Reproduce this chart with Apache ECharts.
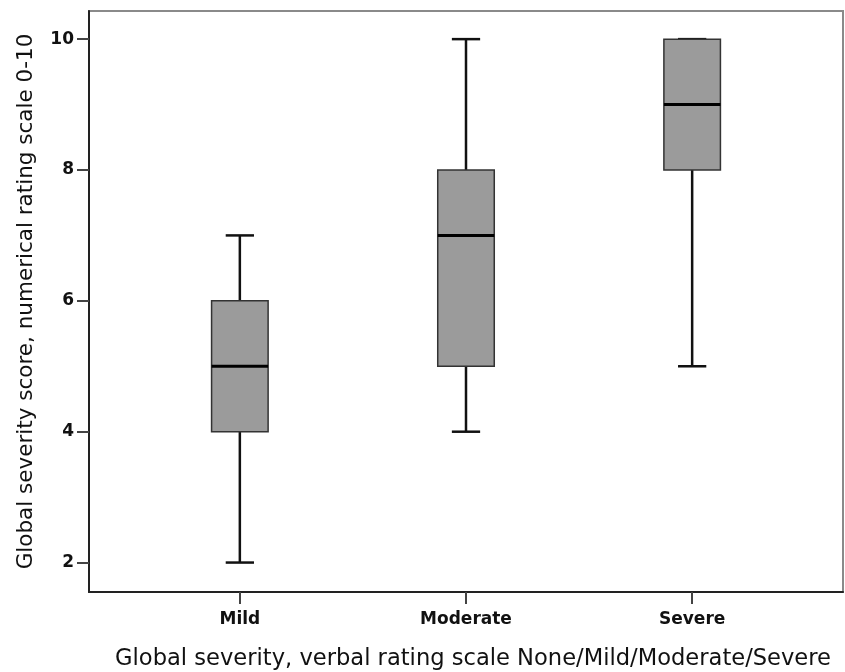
<!DOCTYPE html>
<html><head><meta charset="utf-8">
<script src="https://cdn.jsdelivr.net/npm/echarts@6/dist/echarts.min.js"></script>
<style>html,body{margin:0;padding:0;background:#fff}#c{width:845px;height:672px}</style>
</head><body><div id="c"></div>
<script>
var categories = ['Mild', 'Moderate', 'Severe'];
var whiskerLow = [2, 4, 5];
var q1 = [4, 5, 8];
var median = [5, 7, 9];
var q3 = [6, 8, 10];
var whiskerHigh = [7, 10, 10];
var yTicks = [2, 4, 6, 8, 10];

var data = categories.map(function (c, i) {
  return [i, whiskerLow[i], q1[i], median[i], q3[i], whiskerHigh[i]];
});

var chart = echarts.init(document.getElementById('c'), null, {renderer: 'canvas'});
chart.setOption({
  animation: false,
  backgroundColor: '#fff',
  grid: {left: 89, right: 2, top: 11, bottom: 80, show: true, borderColor: '#8a8a8a', borderWidth: 2,
    containLabel: false, outerBoundsMode: 'none'},
  xAxis: {
    type: 'value', min: -0.667, max: 2.667,
    splitLine: {show: false},
    axisLine: {show: true, onZero: false, lineStyle: {color: '#222', width: 2}},
    axisTick: {show: true, length: 12, lineStyle: {color: '#444', width: 2}, customValues: [0, 1, 2]},
    axisLabel: {customValues: [0, 1, 2], formatter: function (v) { return categories[Math.round(v)]; },
      color: '#111', fontWeight: 'bold', fontSize: 17, fontFamily: 'DejaVu Sans', margin: 19},
    name: 'Global severity, verbal rating scale None/Mild/Moderate/Severe',
    nameLocation: 'middle', nameGap: 56,
    nameTextStyle: {color: '#111', fontSize: 22.6, fontFamily: 'DejaVu Sans', padding: [0, 0, 0, 14]}
  },
  yAxis: {
    type: 'value', min: 1.55, max: 10.43,
    splitLine: {show: false},
    axisLine: {show: true, onZero: false, lineStyle: {color: '#222', width: 2}},
    axisTick: {show: true, length: 12, lineStyle: {color: '#444', width: 2}, customValues: yTicks},
    axisLabel: {customValues: yTicks, color: '#111', fontWeight: 'bold', fontSize: 17, fontFamily: 'DejaVu Sans', margin: 15},
    name: 'Global severity score, numerical rating scale 0-10',
    nameLocation: 'middle', nameGap: 52, nameRotate: 90,
    nameTextStyle: {color: '#111', fontSize: 21.5, fontFamily: 'DejaVu Sans'}
  },
  series: [{
    type: 'custom',
    data: data,
    encode: {x: 0, y: [1, 2, 3, 4, 5]},
    renderItem: function (params, api) {
      var x = api.value(0);
      var boxHalf = api.size([0.125, 0])[0];
      var capHalf = boxHalf / 2;
      var pLow = api.coord([x, api.value(1)]);
      var pQ1 = api.coord([x, api.value(2)]);
      var pMed = api.coord([x, api.value(3)]);
      var pQ3 = api.coord([x, api.value(4)]);
      var pHigh = api.coord([x, api.value(5)]);
      var cx = pQ1[0];
      var lineStyle = {stroke: '#111', lineWidth: 2.5};
      return {
        type: 'group',
        children: [
          {type: 'line', shape: {x1: cx, y1: pQ3[1], x2: cx, y2: pHigh[1]}, style: lineStyle},
          {type: 'line', shape: {x1: cx, y1: pQ1[1], x2: cx, y2: pLow[1]}, style: lineStyle},
          {type: 'line', shape: {x1: cx - capHalf, y1: pHigh[1], x2: cx + capHalf, y2: pHigh[1]}, style: lineStyle},
          {type: 'line', shape: {x1: cx - capHalf, y1: pLow[1], x2: cx + capHalf, y2: pLow[1]}, style: lineStyle},
          {type: 'rect', shape: {x: cx - boxHalf, y: pQ3[1], width: boxHalf * 2, height: pQ1[1] - pQ3[1]},
            style: {fill: '#9b9b9b', stroke: '#333', lineWidth: 1.5}},
          {type: 'line', shape: {x1: cx - boxHalf, y1: pMed[1], x2: cx + boxHalf, y2: pMed[1]}, style: {stroke: '#000', lineWidth: 3}}
        ]
      };
    }
  }]
});
</script></body></html>
